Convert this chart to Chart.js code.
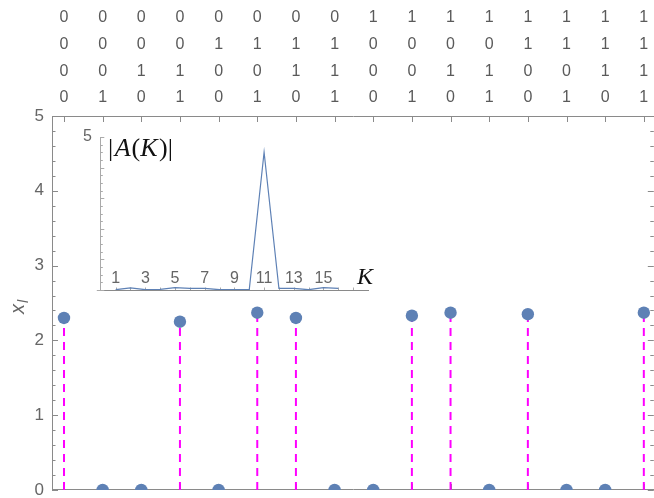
<!DOCTYPE html>
<html>
<head>
<script src="https://cdn.jsdelivr.net/npm/chart.js"></script>
<style>
  body { margin: 0; overflow: hidden; background: #fff; }
  #wrap { position: relative; width: 654px; height: 498px; overflow: hidden; }
  #mainChart { position: absolute; left: 0; top: 0; }
  #insetChart { position: absolute; left: 80px; top: 125px; }
</style>
</head>
<body>
<div id="wrap">
  <canvas id="mainChart" width="661" height="498"></canvas>
  <canvas id="insetChart" width="300" height="175"></canvas>
</div>

<script>
  // main stem plot
  const positions = [0, 1, 2, 3, 4, 5, 6, 7, 8, 9, 10, 11, 12, 13, 14, 15];
  const amplitudes = [2.30, 0, 0, 2.25, 0, 2.37, 2.30, 0, 0, 2.33, 2.37, 0, 2.35, 0, 0, 2.37];

  // binary labels above the plot, one row per bit
  const bitRow1 = [0, 0, 0, 0, 0, 0, 0, 0, 1, 1, 1, 1, 1, 1, 1, 1];
  const bitRow2 = [0, 0, 0, 0, 1, 1, 1, 1, 0, 0, 0, 0, 1, 1, 1, 1];
  const bitRow3 = [0, 0, 1, 1, 0, 0, 1, 1, 0, 0, 1, 1, 0, 0, 1, 1];
  const bitRow4 = [0, 1, 0, 1, 0, 1, 0, 1, 0, 1, 0, 1, 0, 1, 0, 1];

  const yTicks = [0, 1, 2, 3, 4, 5];

  // inset spectrum |A(K)|
  const kValues = [1, 2, 3, 4, 5, 6, 7, 8, 9, 10, 11, 12, 13, 14, 15, 16];
  const aValues = [0.01, 0.07, 0.01, 0.02, 0.08, 0.05, 0.05, 0.01, 0.01, 0.01, 4.5, 0.05, 0.05, 0.01, 0.08, 0.05];
  const insetTicks = [1, 3, 5, 7, 9, 11, 13, 15];

  const pointColor = "#5E81B5";
  const stemColor = "#FF00FF";
  const axisColor = "#8a8a8a";
  const labelColor = "#666";
  const sans = "'Liberation Sans', Arial, sans-serif";
  const serif = "'Liberation Serif', 'Times New Roman', serif";

  const stemData = [];
  positions.forEach((x, i) => {
    if (amplitudes[i] > 0) {
      stemData.push({ x: x, y: 0 }, { x: x, y: amplitudes[i] }, { x: x, y: null });
    }
  });

  const frameTicks = {
    id: "frameTicks",
    beforeDatasetsDraw(chart) {
      const ctx = chart.ctx;
      const a = chart.chartArea;
      const xs = chart.scales.x;
      const ys = chart.scales.y;
      ctx.save();
      ctx.strokeStyle = axisColor;
      ctx.lineWidth = 1;
      ctx.beginPath();
      // bottom frame line
      ctx.moveTo(a.left, a.bottom - 0.5);
      ctx.lineTo(a.right, a.bottom - 0.5);
      // left / right ticks
      for (let k = 0; k <= 25; k++) {
        const v = k * 0.2;
        const py = Math.round(ys.getPixelForValue(v)) + 0.5;
        const len = k % 5 === 0 ? 6 : 3.5;
        ctx.moveTo(a.left, py);
        ctx.lineTo(a.left + len, py);
        ctx.moveTo(a.right - 1, py);
        ctx.lineTo(a.right - 1 - len, py);
      }
      // top / bottom ticks
      positions.forEach(v => {
        const px = Math.round(xs.getPixelForValue(v)) + 0.5;
        ctx.moveTo(px, a.top);
        ctx.lineTo(px, a.top + 6);
        ctx.moveTo(px, a.bottom);
        ctx.lineTo(px, a.bottom - 6);
      });
      ctx.stroke();

      // y axis title x_l
      ctx.fillStyle = labelColor;
      ctx.translate(24, 314);
      ctx.rotate(-Math.PI / 2);
      ctx.font = "italic 20px " + sans;
      ctx.textBaseline = "alphabetic";
      ctx.fillText("x", 0, 0);
      const w = ctx.measureText("x").width;
      ctx.font = "italic 14px " + sans;
      ctx.fillText("l", w + 1, 4);
      ctx.restore();
    }
  };

  new Chart(document.getElementById("mainChart"), {
    type: "scatter",
    data: {
      datasets: [
        {
          label: "points",
          data: positions.map((x, i) => ({ x: x, y: amplitudes[i] })),
          pointRadius: 6.2,
          pointHoverRadius: 6.2,
          pointBorderWidth: 0,
          backgroundColor: pointColor,
          borderColor: pointColor,
          clip: 0
        },
        {
          label: "stems",
          data: stemData,
          showLine: true,
          spanGaps: false,
          borderColor: stemColor,
          borderWidth: 2,
          borderDash: [8, 6],
          pointRadius: 0,
          pointHoverRadius: 0
        }
      ]
    },
    options: {
      responsive: false,
      animation: false,
      events: [],
      layout: { padding: { left: 0, top: 0, right: 1, bottom: 8 } },
      plugins: { legend: { display: false }, tooltip: { enabled: false } },
      scales: {
        x: {
          type: "linear",
          position: "top",
          min: -0.31,
          max: 15.284,
          afterBuildTicks: s => { s.ticks = positions.map(v => ({ value: v })); },
          afterFit: s => { s.height = 116; },
          ticks: {
            autoSkip: false,
            maxRotation: 0,
            padding: 4.7,
            color: "#5a5a5a",
            font: { family: sans, size: 16, lineHeight: 1.667 },
            callback: (v, i) => [String(bitRow1[i]), String(bitRow2[i]), String(bitRow3[i]), String(bitRow4[i])]
          },
          grid: { display: false, drawTicks: false },
          border: { display: true, color: axisColor }
        },
        y: {
          min: 0,
          max: 5,
          afterBuildTicks: s => { s.ticks = yTicks.map(v => ({ value: v })); },
          afterFit: s => { s.width = 52; s.paddingTop = 0; s.paddingBottom = 0; },
          ticks: {
            padding: 8,
            color: labelColor,
            font: { family: sans, size: 17 }
          },
          grid: { display: false, drawTicks: false },
          border: { display: true, color: axisColor }
        }
      }
    },
    plugins: [frameTicks]
  });

  // inset
  function drawPieces(ctx, pieces, x, y) {
    pieces.forEach(p => {
      ctx.font = p[1];
      ctx.fillText(p[0], x, y);
      x += ctx.measureText(p[0]).width + (p[2] || 0);
    });
  }

  const insetDecor = {
    id: "insetDecor",
    beforeDatasetsDraw(chart) {
      const ctx = chart.ctx;
      const a = chart.chartArea;
      const xs = chart.scales.x;
      const ys = chart.scales.y;
      ctx.save();
      ctx.strokeStyle = "#aaa";
      ctx.lineWidth = 1;
      ctx.beginPath();
      for (let k = 0; k <= 20; k++) {
        const py = Math.round(ys.getPixelForValue(k * 0.25)) + 0.5;
        ctx.moveTo(a.left, py);
        ctx.lineTo(a.left + (k % 4 === 0 ? 3.5 : 2), py);
      }
      for (let k = 1; k <= 17; k++) {
        const px = Math.round(xs.getPixelForValue(k)) + 0.5;
        ctx.moveTo(px, a.bottom);
        ctx.lineTo(px, a.bottom - 2.5);
      }
      // axis stub left of the y axis
      ctx.moveTo(a.left - 4, a.bottom + 0.5);
      ctx.lineTo(a.left, a.bottom + 0.5);
      ctx.stroke();

      ctx.fillStyle = "#111";
      ctx.textBaseline = "middle";
      const up = "26px " + serif;
      const it = "italic 26px " + serif;
      drawPieces(ctx, [["|", up, 1.5], ["A", it, 1], ["(", up], ["K", it, 1.5], [")", up], ["|", up]], 28, 24);
      ctx.font = "italic 24px " + serif;
      ctx.fillText("K", 277, 153);
      ctx.restore();
    }
  };

  new Chart(document.getElementById("insetChart"), {
    type: "line",
    data: {
      datasets: [{
        label: "|A(K)|",
        data: kValues.map((k, i) => ({ x: k, y: aValues[i] })),
        borderColor: pointColor,
        borderWidth: 1.2,
        pointRadius: 0,
        pointHoverRadius: 0,
        tension: 0,
        fill: false
      }]
    },
    options: {
      responsive: false,
      animation: false,
      events: [],
      layout: { padding: { left: 0, top: 12, right: 12, bottom: 0 } },
      plugins: { legend: { display: false }, tooltip: { enabled: false } },
      scales: {
        x: {
          type: "linear",
          min: 0,
          max: 18,
          afterBuildTicks: s => { s.ticks = insetTicks.map(v => ({ value: v })); },
          afterFit: s => { s.height = 10; },
          ticks: {
            autoSkip: false,
            maxRotation: 0,
            mirror: true,
            padding: 2,
            color: labelColor,
            font: { family: sans, size: 16 }
          },
          grid: { display: false, drawTicks: false },
          border: { display: true, color: axisColor }
        },
        y: {
          min: 0,
          max: 5,
          afterBuildTicks: s => { s.ticks = [{ value: 5 }]; },
          afterFit: s => { s.width = 20.8; s.paddingTop = 0; s.paddingBottom = 0; },
          ticks: {
            padding: 9,
            color: labelColor,
            font: { family: sans, size: 16 }
          },
          grid: { display: false, drawTicks: false },
          border: { display: true, color: "#aaa" }
        }
      }
    },
    plugins: [insetDecor]
  });
</script>
</body>
</html>
